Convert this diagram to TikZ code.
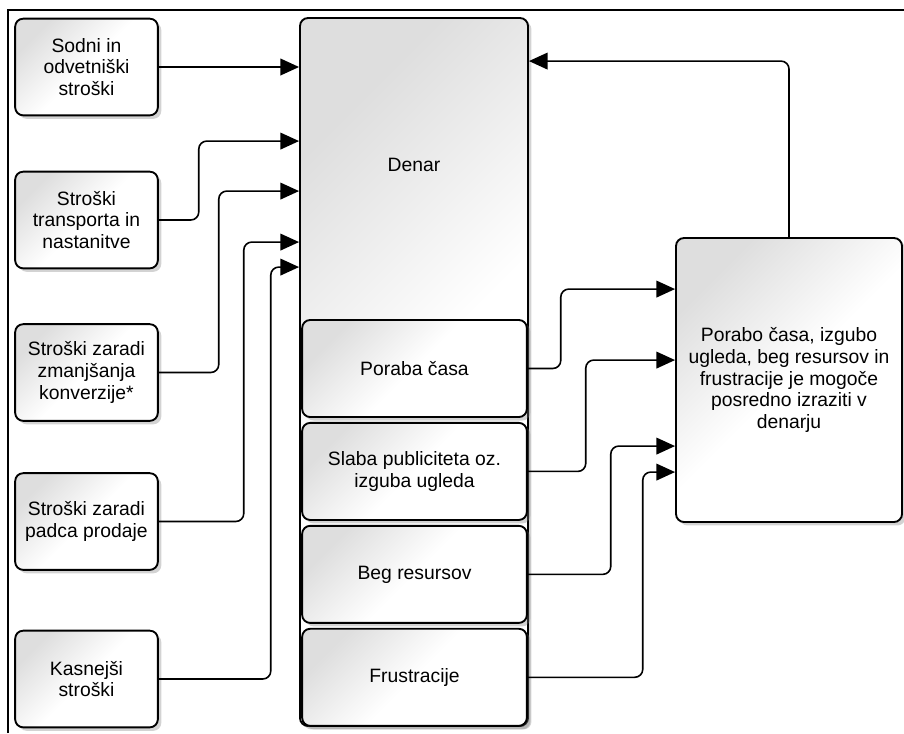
\documentclass[tikz,border=0pt]{standalone}
\usepackage{fontspec}
\setmainfont{Liberation Sans}
\usetikzlibrary{positioning,calc,arrows.meta,shadows}
\tikzset{
  txt/.style={align=center, font=\fontsize{14.5}{16.3}\selectfont},
  box/.style={txt, rectangle, rounded corners=6pt, draw=black, line width=1.4pt,
    top color=black!13, bottom color=white, middle color=white, shading angle=45,
    drop shadow={shadow xshift=2.6pt, shadow yshift=-2.6pt, opacity=.35}},
  cost/.style={box, minimum width=107pt, minimum height=72.5pt},
  part/.style={box, minimum width=168.5pt, minimum height=72.8pt, node distance=3pt},
  connect/.style={-{Triangle[length=14pt,width=12.5pt]}, line width=1.2pt, rounded corners=6pt}
}

\begin{document}
\begin{tikzpicture}[x=0.75pt,y=0.75pt]
  \useasboundingbox (0,0) rectangle (904,-733);
  % frame of the page
  \draw[line width=2.2pt] (8,-733) -- (8,-10) -- (904,-10);

  % cost boxes on the left
  \node[cost] (sodni) at (86.5,-67) {Sodni in\\odvetniški\\stroški};
  \node[cost] (transport) at (86.5,-220) {Stroški\\transporta in\\nastanitve};
  \node[cost] (konverzija) at (86.5,-372.5) {Stroški zaradi\\zmanjšanja\\konverzije*};
  \node[cost] (prodaja) at (86.5,-521.5) {Stroški zaradi\\padca prodaje};
  \node[cost] (kasnejsi) at (86.5,-679) {Kasnejši\\stroški};

  % money column and its parts
  \node[box, minimum width=171pt, minimum height=531pt] (denar) at (414,-372) {};
  \node[txt] (denarlbl) at (414,-165) {Denar};
  \node[part] (poraba) at (414.5,-368.5) {Poraba časa};
  \node[part, below=of poraba] (slaba) {Slaba publiciteta oz.\\izguba ugleda};
  \node[part, below=of slaba] (beg) {Beg resursov};
  \node[part, below=of beg] (frustracije) {Frustracije};

  \node[box, minimum width=169.5pt, minimum height=213pt] (posredno) at (789,-380)
    {Porabo časa, izgubo\\ugleda, beg resursov in\\frustracije je mogoče\\posredno izraziti v\\denarju};

  % costs -> money
  \draw[connect] (sodni.east) -- (sodni.east -| denar.west);
  \draw[connect] (transport.east) -- ++(40,0) |- ($(denar.north west)+(0,-124)$);
  \draw[connect] (konverzija.east) -- ++(60,0) |- ($(denar.north west)+(0,-174)$);
  \draw[connect] (prodaja.east) -- ++(85,0) |- ($(denar.north west)+(0,-225)$);
  \draw[connect] (kasnejsi.east) -- ++(112,0) |- ($(denar.north west)+(0,-250)$);

  % parts -> indirect box, and back to money
  \draw[connect] (poraba.east) -- ++(33,0) |- ($(posredno.north west)+(0,-52)$);
  \draw[connect] (slaba.east) -- ++(58,0) |- ($(posredno.north west)+(0,-123)$);
  \draw[connect] (beg.east) -- ++(83,0) |- ($(posredno.north west)+(0,-209)$);
  \draw[connect] (frustracije.east) -- ++(115,0) |- ($(posredno.north west)+(0,-235)$);
  \draw[connect] (posredno.north) |- ($(denar.north east)+(0,-44)$);
\end{tikzpicture}
\end{document}
